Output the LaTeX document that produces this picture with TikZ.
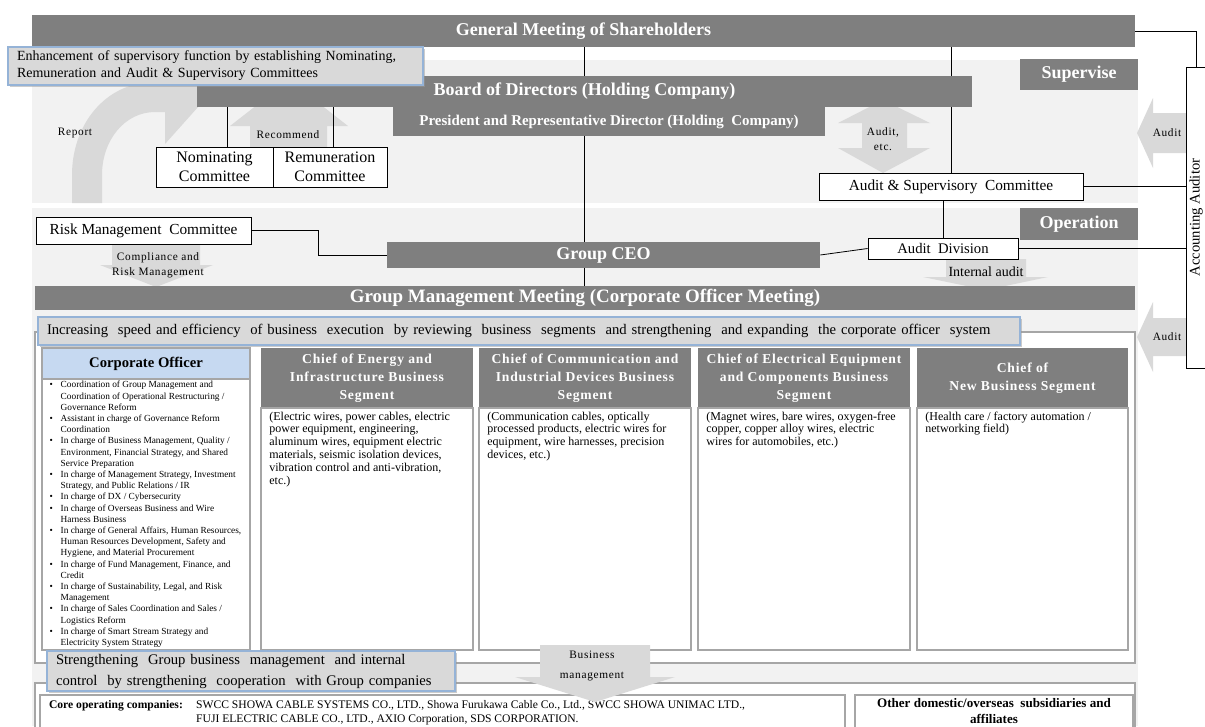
\documentclass[tikz,border=0pt]{standalone}
\usepackage{fontspec}
\setmainfont{Liberation Serif}
\newfontfamily\spacedfont[LetterSpace=6]{Liberation Serif}
\usetikzlibrary{positioning,shadows}
\definecolor{bargray}{RGB}{127,127,127}
\definecolor{bandgray}{RGB}{242,242,242}
\definecolor{arrowgray}{RGB}{217,217,217}
\definecolor{calloutblue}{RGB}{149,179,215}
\definecolor{officerblue}{RGB}{198,217,241}
\definecolor{boxgray}{RGB}{166,166,166}
\newcommand{\cobullet}{\makebox[8.25pt][l]{\textbullet}}
\newcommand{\coindent}{\hspace*{8.25pt}}

\begin{document}
\begin{tikzpicture}[x=0.75pt, y=-0.75pt,
    bar/.style={rectangle, fill=bargray, text=white, inner sep=0pt, font=\bfseries\fontsize{13.5}{16}\selectfont},
    tag/.style={bar, minimum width=88.5pt, minimum height=23.5pt},
    box/.style={rectangle, draw=black, fill=white, line width=0.6pt, inner sep=0pt, align=center, font=\fontsize{11.5}{13}\selectfont},
    callout/.style={rectangle, draw=calloutblue, fill=arrowgray, line width=1pt, inner xsep=6.75pt, inner ysep=0pt, align=left,
        drop shadow={shadow xshift=1.5pt, shadow yshift=-1.5pt, fill=black!40, opacity=0.5}},
    lbl/.style={align=center, inner sep=0pt, font=\spacedfont\fontsize{8.5}{11.25}\selectfont},
    chief/.style={bar, align=center, minimum width=159pt, minimum height=45pt, font=\spacedfont\bfseries\fontsize{10.2}{13.5}\selectfont},
    segbody/.style={rectangle, draw=boxgray, fill=white, line width=0.8pt, minimum width=159pt, minimum height=181.5pt},
    segtext/.style={align=left, inner sep=0pt, font=\fontsize{9}{9.6}\selectfont},
    band/.style={fill=bandgray},
    blockarrow/.style={fill=arrowgray},
    link/.style={draw=black, line width=0.6pt}
]
\useasboundingbox (0,0) rectangle (1205,726);

% Background bands
\fill[band] (32,60) rectangle (1138,203);
\fill[band] (32,208) rectangle (1138,726);

% Block arrows
\fill[blockarrow] (72,203) -- (72,175) .. controls (72,125) and (105,82) .. (155,82) -- (165,82) -- (165,50) -- (207,97)
    -- (165,144) -- (165,112) -- (155,112) .. controls (125,112) and (102,140) .. (102,175) -- (102,203) -- cycle;
\fill[blockarrow] (250,147) -- (250,126) -- (230,126) -- (289,80) -- (348,126) -- (327,126) -- (327,147) -- cycle;
\fill[blockarrow] (883,100) -- (930,123) -- (907,123) -- (907,148) -- (930,148) -- (883,173) -- (838,148) -- (862,148)
    -- (862,123) -- (838,123) -- cycle;
\fill[blockarrow] (1186,113) -- (1153,113) -- (1153,98) -- (1137,133) -- (1153,168) -- (1153,153) -- (1186,153) -- cycle;
\fill[blockarrow] (1186,318) -- (1153,318) -- (1153,302) -- (1137,337) -- (1153,372) -- (1153,356) -- (1186,356) -- cycle;
\fill[blockarrow] (112,244) -- (200,244) -- (200,265) -- (213,265) -- (156,287) -- (100,265) -- (112,265) -- cycle;
\fill[blockarrow] (946,259) -- (1026,259) -- (1026,277) -- (1048,277) -- (986,290) -- (923,277) -- (946,277) -- cycle;

% Supervision side
\node[bar, minimum width=827.25pt, minimum height=24pt] (gms) at (583.5,31) {General Meeting of Shareholders};
\node[bar, minimum width=581.25pt, minimum height=23.25pt] (board) at (584.5,91.5) {Board of Directors (Holding Company)};
\node[bar, minimum width=324pt, minimum height=21.75pt, font=\bfseries\fontsize{11.2}{12}\selectfont] (president) at (609,121.5)
    {President and Representative Director (Holding\ \ Company)};
\node[tag] (supervise) at (1079,74.5) {Supervise};
\node[callout, text width=297.75pt, minimum height=28.5pt, font=\fontsize{10.5}{12.75}\selectfont] (enhance) at (215.5,66)
    {Enhancement of supervisory function by establishing Nominating,\\Remuneration and Audit \& Supervisory Committees};

\node[box, minimum width=87.75pt, minimum height=30pt, font=\fontsize{12}{14}\selectfont] (nominating) at (214.5,167) {Nominating\\Committee};
\node[box, minimum width=85.5pt, minimum height=30pt, font=\fontsize{12}{14}\selectfont] (remuneration) at (330,167) {Remuneration\\Committee};
\node[box, minimum width=198pt, minimum height=20.25pt] (asc) at (951,186.5) {Audit \&\ Supervisory\ \ Committee};
\node[box, minimum width=15pt, minimum height=225.75pt] (auditor) at (1196,217.5) {};
\node[rotate=90, inner sep=0pt, font=\fontsize{11}{13}\selectfont] (auditortxt) at (auditor.center) {Accounting Auditor};

% Operation side
\node[tag] (operation) at (1079,224) {Operation};
\node[box, minimum width=161.25pt, minimum height=20.25pt] (risk) at (143.5,230.5) {Risk\ Management\ \ Committee};
\node[bar, minimum width=324.75pt, minimum height=19.5pt] (ceo) at (603.5,255) {Group CEO};
\node[box, minimum width=112.5pt, minimum height=15.75pt, font=\fontsize{11}{13}\selectfont] (auditdiv) at (943,248.5) {Audit\ \ Division};
\node[bar, minimum width=825pt, minimum height=18pt, font=\bfseries\fontsize{14.2}{16}\selectfont] (gmm) at (585,298) {Group Management Meeting (Corporate Officer Meeting)};

% Arrow labels
\node[lbl] (report) at (75,133) {Report};
\node[lbl] (recommend) at (288,135) {Recommend};
\node[lbl] (auditetc) at (883,139) {Audit,\\etc.};
\node[lbl] (audittop) at (1167,133) {Audit};
\node[lbl] (auditlow) at (1167,337) {Audit};
\node[lbl] (compliance) at (158,265.5) {Compliance and\\Risk Management};
\node[lbl, font=\fontsize{10.5}{12}\selectfont] (internal) at (986,272) {Internal audit};

% Connectors
\draw[link] (board.north) -- (board.north |- gms.south);
\draw[link] (asc.north |- gms.south) -- (asc.north |- board.north);
\draw[link] (asc.north |- board.south) -- (asc.north);
\draw[link] ([xshift=10pt]nominating.north) -- ([xshift=10pt]nominating.north |- board.south);
\draw[link] ([xshift=2.25pt]remuneration.north) -- ([xshift=2.25pt]remuneration.north |- board.south);
\draw[link] (board.south |- president.south) -- (board.south |- ceo.north);
\draw[link] (board.south |- ceo.south) -- (board.south |- gmm.north);
\draw[link] (gms.east) -| (auditor.north);
\draw[link] (asc.east) -- (asc.east -| auditor.west);
\draw[link] (auditdiv.north) -- (auditdiv.north |- asc.south);
\draw[link] (auditdiv.west) -- (ceo.east);
\draw[link] (auditdiv.east) -- (auditdiv.east -| auditor.west);
\draw[link] (risk.east) -- ++(67,0) |- (ceo.west);

% Business execution
\node[rectangle, draw=boxgray, fill=white, line width=0.8pt, minimum width=825pt, minimum height=248.25pt] (execbox) at (585,497.5) {};
\node[callout, text width=723pt, minimum height=21pt, font=\fontsize{11}{13}\selectfont] (increase) at (529,331)
    {Increasing\ \ speed and efficiency\ \ of business\ \ execution\ \ by reviewing\ \ business\ \ segments\ \ and strengthening\ \ and expanding\ \ the corporate officer\ \ system};

\node[rectangle, draw=boxgray, fill=officerblue, line width=0.8pt, minimum width=156pt, minimum height=23.25pt, font=\bfseries\fontsize{11}{12}\selectfont] (officer) at (146,363.5) {Corporate Officer};
\node[rectangle, draw=boxgray, fill=white, line width=0.8pt, minimum width=156pt, minimum height=203.25pt] (officerbody) at (146,514.5) {};
\node[segtext, font=\fontsize{7}{8.4}\selectfont, below right=2pt and 6pt of officerbody.north west] (officertxt) {%
\cobullet Coordination of Group Management and\\
\coindent Coordination of Operational Restructuring /\\
\coindent Governance Reform\\
\cobullet Assistant in charge of Governance Reform\\
\coindent Coordination\\
\cobullet In charge of Business Management, Quality /\\
\coindent Environment, Financial Strategy, and Shared\\
\coindent Service Preparation\\
\cobullet In charge of Management Strategy, Investment\\
\coindent Strategy, and Public Relations / IR\\
\cobullet In charge of DX / Cybersecurity\\
\cobullet In charge of Overseas Business and Wire\\
\coindent Harness Business\\
\cobullet In charge of General Affairs, Human Resources,\\
\coindent Human Resources Development, Safety and\\
\coindent Hygiene, and Material Procurement\\
\cobullet In charge of Fund Management, Finance, and\\
\coindent Credit\\
\cobullet In charge of Sustainability, Legal, and Risk\\
\coindent Management\\
\cobullet In charge of Sales Coordination and Sales /\\
\coindent Logistics Reform\\
\cobullet In charge of Smart Stream Strategy and\\
\coindent Electricity System Strategy};

\node[chief] (energy) at (367,378) {Chief of Energy and\\Infrastructure Business\\Segment};
\node[segbody] (energybody) at (367,529) {};
\node[segtext, below right=3pt and 6.5pt of energybody.north west] (energytxt)
    {(Electric wires, power cables, electric\\power equipment, engineering,\\aluminum\ wires, equipment electric\\materials, seismic isolation devices,\\vibration control and anti-vibration,\\etc.)};

\node[chief] (comm) at (585,378) {Chief of Communication and\\Industrial Devices Business\\Segment};
\node[segbody] (commbody) at (585,529) {};
\node[segtext, below right=3pt and 6.5pt of commbody.north west] (commtxt)
    {(Communication\ cables, optically\\processed products, electric wires for\\equipment, wire harnesses, precision\\devices, etc.)};

\node[chief] (elec) at (804,378) {Chief of Electrical Equipment\\and Components Business\\Segment};
\node[segbody] (elecbody) at (804,529) {};
\node[segtext, below right=3pt and 6.5pt of elecbody.north west] (electxt)
    {(Magnet wires, bare wires, oxygen-free\\copper, copper alloy wires, electric\\wires for automobiles, etc.)};

\node[chief, minimum width=158.25pt] (newbiz) at (1022.5,378) {Chief of\\New Business Segment};
\node[segbody, minimum width=158.25pt] (newbizbody) at (1022.5,529) {};
\node[segtext, below right=3pt and 6.5pt of newbizbody.north west] (newbiztxt)
    {(Health care / factory automation /\\networking field)};

% Group companies
\node[rectangle, draw=boxgray, fill=white, line width=0.8pt, minimum width=825pt, minimum height=42.75pt] (groupbox) at (585,711.5) {};
\node[rectangle, draw=boxgray, fill=white, line width=0.8pt, minimum width=603.75pt, minimum height=33.75pt] (core) at (442.5,717.5) {};
\node[segtext, font=\fontsize{8.7}{10.5}\selectfont, below right=3pt and 7pt of core.north west] (coretxt)
    {\begin{tabular}{@{}l@{\hspace{10pt}}l@{}}\textbf{Core operating companies:} & SWCC SHOWA CABLE SYSTEMS CO., LTD., Showa Furukawa Cable Co., Ltd., SWCC SHOWA UNIMAC LTD.,\\
    & FUJI ELECTRIC CABLE CO., LTD., AXIO Corporation, SDS CORPORATION.\end{tabular}};
\node[rectangle, draw=boxgray, fill=white, line width=0.8pt, minimum width=208.5pt, minimum height=33.75pt] (other) at (994,717.5) {};
\node[segtext, align=center, font=\bfseries\fontsize{9.8}{12}\selectfont, below=3pt of other.north] (othertxt)
    {Other domestic/overseas\ \ subsidiaries and\\affiliates};

\fill[blockarrow] (540,645) -- (650,645) -- (650,677) -- (675,677) -- (595,702) -- (515,677) -- (540,677) -- cycle;
\node[lbl, font=\spacedfont\fontsize{8.5}{15}\selectfont] (business) at (592,666) {Business\\management};
\node[callout, text width=292.5pt, minimum height=30pt, font=\fontsize{11}{15.75}\selectfont] (strengthen) at (251,671)
    {\mbox{Strengthening\ \ Group business\ \ management\ \ and internal}\\\mbox{control\ \ by strengthening\ \ cooperation\ \ with Group companies}};

\end{tikzpicture}
\end{document}
